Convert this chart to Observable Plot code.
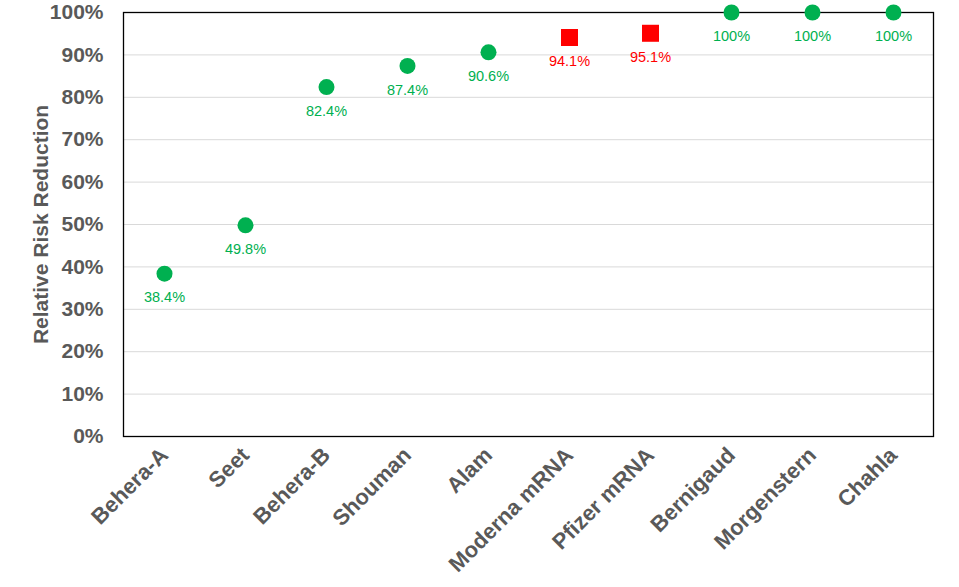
<!DOCTYPE html>
<html>
<head>
<meta charset="utf-8">
<script src="https://cdn.jsdelivr.net/npm/d3@7"></script>
<script src="https://cdn.jsdelivr.net/npm/@observablehq/plot@0.6"></script>
<style>
  html, body { margin: 0; padding: 0; background: #fff; }
  body { font-family: "Liberation Sans", Arial, sans-serif; }
</style>
</head>
<body>
<div id="chart"></div>
<script>
const studies = ["Behera-A", "Seet", "Behera-B", "Shouman", "Alam", "Moderna mRNA", "Pfizer mRNA", "Bernigaud", "Morgenstern", "Chahla"];
const reductions = [38.4, 49.8, 82.4, 87.4, 90.6, 94.1, 95.1, 100, 100, 100];
const kinds = ["ivermectin", "ivermectin", "ivermectin", "ivermectin", "ivermectin", "vaccine", "vaccine", "ivermectin", "ivermectin", "ivermectin"];
const yTicks = [0, 10, 20, 30, 40, 50, 60, 70, 80, 90, 100];

const data = studies.map((s, i) => ({
  study: s,
  value: reductions[i],
  kind: kinds[i],
  label: reductions[i] === 100 ? "100%" : reductions[i].toFixed(1) + "%"
}));
const green = "#00B050", red = "#FF0000";
const colorOf = d => d.kind === "vaccine" ? red : green;

const chart = Plot.plot({
  width: 959,
  height: 587,
  marginLeft: 123,
  marginRight: 26,
  marginTop: 12,
  marginBottom: 151,
  style: { fontFamily: "'Liberation Sans', Arial, sans-serif", background: "#fff" },
  x: { type: "point", domain: studies, padding: 0.5 },
  y: { domain: [0, 100] },
  marks: [
    Plot.gridY(yTicks, { stroke: "#d9d9d9", strokeOpacity: 1, strokeWidth: 1 }),
    Plot.frame({ stroke: "#000", strokeWidth: 1.3 }),
    Plot.axisY(yTicks, {
      tickFormat: d => d + "%",
      tickSize: 0,
      tickPadding: 20,
      fontSize: 21,
      fontWeight: "bold",
      fill: "#595959",
      label: "Relative Risk Reduction",
      labelAnchor: "center",
      labelArrow: "none",
      labelOffset: 90
    }),
    Plot.axisX({
      tickSize: 0,
      tickRotate: -45,
      tickPadding: 15,
      fontSize: 22,
      fontWeight: "bold",
      fill: "#595959",
      label: null
    }),
    Plot.dot(data.filter(d => d.kind !== "vaccine"), { x: "study", y: "value", r: 8, fill: green, symbol: "circle", clip: false }),
    Plot.dot(data.filter(d => d.kind === "vaccine"), { x: "study", y: "value", r: 9.6, fill: red, symbol: "square", clip: false }),
    Plot.text(data, { x: "study", y: "value", text: "label", fill: colorOf, dy: 24, fontSize: 14.5 })
  ]
});
document.getElementById("chart").appendChild(chart);
</script>
</body>
</html>
